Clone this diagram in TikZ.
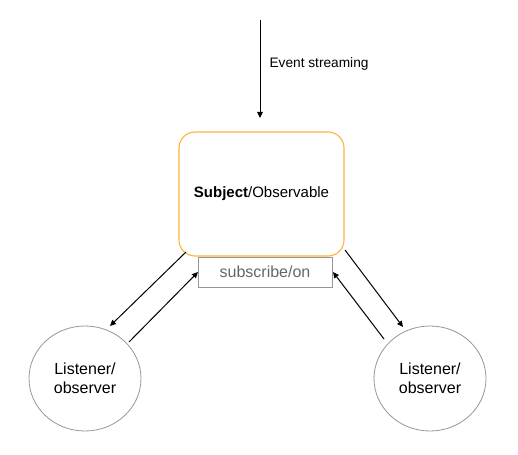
\documentclass[tikz,border=0pt]{standalone}
\usepackage{fontspec}
\setmainfont{Liberation Sans}
\usetikzlibrary{arrows.meta,shapes.geometric}
\definecolor{orangeb}{RGB}{255,178,60}
\definecolor{grayb}{RGB}{150,150,150}
\definecolor{grayt}{RGB}{102,102,102}
\tikzset{
  arr/.style={-{Triangle[length=6pt,width=5.5pt]}, line width=1pt, black},
  listener/.style={draw=grayb, line width=0.8pt, ellipse, minimum width=112pt, minimum height=105pt, align=center, font=\fontsize{16}{19.5}\selectfont, inner sep=0pt},
}
\begin{document}
\begin{tikzpicture}[x=1pt,y=-1pt]
\useasboundingbox (0,0) rectangle (518,454);
\draw[orangeb, line width=1.1pt, rounded corners=16pt] (179,132) rectangle (344,256);
\node (subj) at (261.5,194) {\fontsize{15}{18}\selectfont\textbf{Subject}/Observable};
\node[draw=grayb, line width=0.8pt, minimum width=134pt, minimum height=30pt, inner sep=0pt, text=grayt, font=\fontsize{16}{19}\selectfont] (sub) at (265,272) {subscribe/on};
\coordinate (evtop) at (260,20);
\coordinate (evbot) at (260,118);
\draw[arr] (evtop) -- (evbot);
\node[anchor=west, font=\fontsize{13.7}{16}\selectfont] (evlab) at (266,64) {Event streaming};
\node[listener] (l1) at (85,378.5) {Listener/\\observer};
\node[listener] (l2) at (430,378.5) {Listener/\\observer};
\coordinate (a1s) at (186,252); \coordinate (a1e) at (110,326);
\coordinate (a2s) at (129,342); \coordinate (a2e) at (198,272);
\coordinate (a3s) at (345,250); \coordinate (a3e) at (403,327);
\coordinate (a4s) at (384,339); \coordinate (a4e) at (333,272);
\draw[arr] (a1s) -- (a1e);
\draw[arr] (a2s) -- (a2e);
\draw[arr] (a3s) -- (a3e);
\draw[arr] (a4s) -- (a4e);
\end{tikzpicture}
\end{document}
